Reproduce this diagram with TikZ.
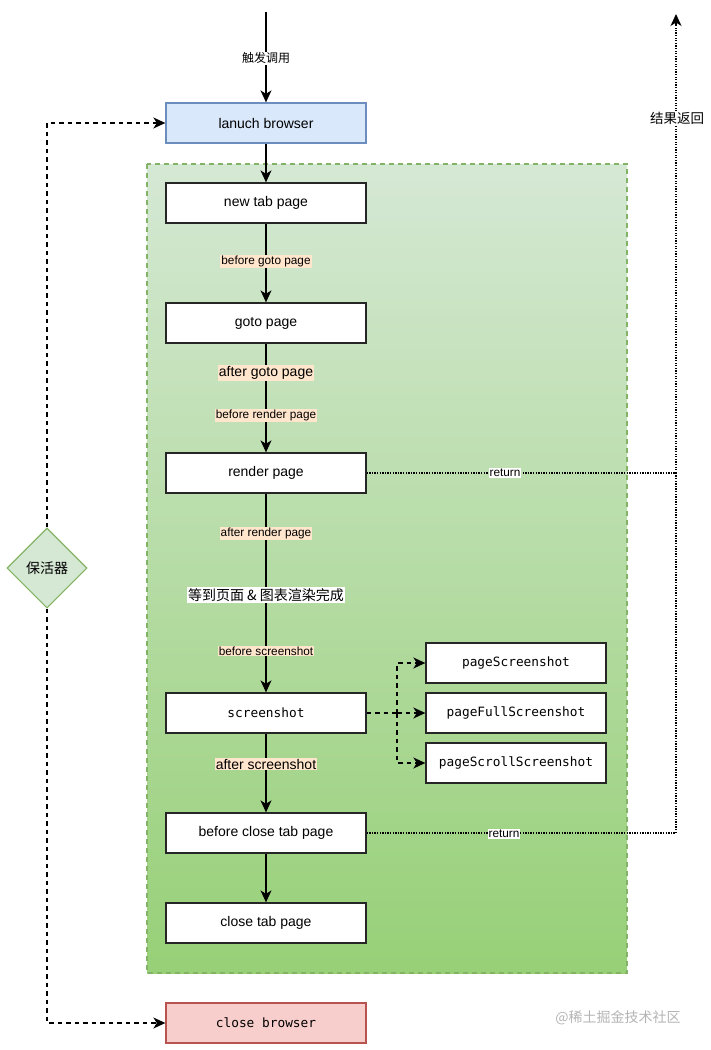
\documentclass[tikz,border=0pt]{standalone}
\usepackage{fontspec}
\setmainfont{Liberation Sans}
\setmonofont{DejaVu Sans Mono}
\newfontfamily\cjk{Noto Sans CJK SC}
\usetikzlibrary{arrows.meta,shapes.geometric,positioning}
\definecolor{bluefill}{HTML}{DAE8FC}
\definecolor{blueline}{HTML}{6C8EBF}
\definecolor{redfill}{HTML}{F8CECC}
\definecolor{redline}{HTML}{B85450}
\definecolor{greenfill}{HTML}{D5E8D4}
\definecolor{greenline}{HTML}{82B366}
\definecolor{greenbot}{HTML}{97D077}
\definecolor{peach}{HTML}{FFE6CC}
\definecolor{wm}{HTML}{B4B4B4}
\tikzset{
  tip/.style={-{Stealth[length=12pt,width=11pt,inset=3.5pt]}},
  box/.style={draw=black!85, line width=1.3pt, fill=white, minimum width=200pt, minimum height=40pt, inner sep=0pt, font=\fontsize{14}{16}\selectfont},
  monobox/.style={box, minimum width=180pt, font=\ttfamily\fontsize{12.8}{15}\selectfont},
  flow/.style={line width=1.3pt, tip},
  dashflow/.style={line width=1.5pt, dash pattern=on 4.5pt off 4pt, tip},
  dashline/.style={line width=1.5pt, dash pattern=on 4.5pt off 4pt},
  dotflow/.style={line width=1.3pt, dash pattern=on 1.3pt off 1.3pt},
  smalllab/.style={fill=peach, inner sep=1pt, font=\fontsize{11.8}{13}\selectfont},
  biglab/.style={fill=peach, inner sep=1pt, font=\fontsize{14}{16}\selectfont},
  whitelab/.style={fill=white, inner sep=1pt},
}
\begin{document}
\begin{tikzpicture}[x=1pt,y=-1pt]
\useasboundingbox (0,0) rectangle (710,1050);
% container
\shade[top color=greenfill, bottom color=greenbot] (147,164) rectangle (627,973);
\draw[greenline, line width=1.3pt, dash pattern=on 5pt off 4pt] (147,164) rectangle (627,973);

% nodes
\coordinate (top) at (266,12);
\node[box, draw=blueline, fill=bluefill] (launch) at (266,123) {lanuch browser};
\node[box] (newtab) at (266,203) {new tab page};
\node[box] (goto) at (266,323) {goto page};
\node[box] (render) at (266,473) {render page};
\node[box, font=\ttfamily\fontsize{12.8}{15}\selectfont] (shot) at (266,713) {screenshot};
\node[box] (bclose) at (266,833) {before close tab page};
\node[box] (ctab) at (266,923) {close tab page};
\node[box, draw=redline, fill=redfill, font=\ttfamily\fontsize{12.8}{15}\selectfont] (cbrowser) at (266,1023) {close browser};

\node[monobox] (ps1) at (516,663) {pageScreenshot};
\node[monobox] (ps2) at (516,713) {pageFullScreenshot};
\node[monobox] (ps3) at (516,763) {pageScrollScreenshot};

\node[diamond, draw=greenline, fill=greenfill, line width=1.1pt, minimum width=80pt, minimum height=80pt, inner sep=0pt, font=\cjk\fontsize{14}{16}\selectfont] (keep) at (47,568) {保活器};

% main flow
\draw[flow] (top) -- node[whitelab, font=\cjk\fontsize{12}{14}\selectfont, pos=0.51] {触发调用} (launch.north);
\draw[flow] (launch) -- (newtab);
\draw[flow] (newtab) -- (goto);
\node[smalllab] at (266,261) {before goto page};
\draw[flow] (goto) -- (render);
\node[biglab] at (266,373) {after goto page};
\node[smalllab] at (266,415) {before render page};
\draw[flow] (render) -- (shot);
\node[smalllab] at (266,533) {after render page};
\node[whitelab, font=\cjk\fontsize{14}{16}\selectfont] at (266,595) {等到页面 \& 图表渲染完成};
\node[smalllab] at (266,651) {before screenshot};
\draw[flow] (shot) -- (bclose);
\node[biglab] at (266,764) {after screenshot};
\draw[flow] (bclose) -- (ctab);

% screenshot branches
\coordinate (br) at (397,713);
\draw[dashline] (shot.east) -- (br);
\draw[dashflow] (br) |- (ps1.west);
\draw[dashflow] (br) -- (ps2.west);
\draw[dashflow] (br) |- (ps3.west);

% keep alive
\draw[dashflow] (keep.north) |- (launch.west);
\draw[dashflow] (keep.south) |- (cbrowser.west);

% return lines
\coordinate (ret) at (676,14);
\coordinate (j1) at (676,473);
\draw[dotflow] (render.east) -- (j1);
\draw[dotflow] (bclose.east) -| (j1);
\draw[dotflow] (j1) -- (676,28);
\draw[line width=1.3pt, tip] (676,26) -- (ret);
\node[whitelab, font=\fontsize{11.8}{13}\selectfont] at (505,473) {return};
\node[whitelab, font=\fontsize{11.8}{13}\selectfont] at (504,834) {return};
\node[whitelab, font=\cjk\fontsize{13.5}{15}\selectfont] at (677,118) {结果返回};

% watermark
\node[text=wm, font=\cjk\fontsize{14}{16}\selectfont, inner sep=0pt] (wmk) at (618,1018) {@稀土掘金技术社区};
\end{tikzpicture}
\end{document}
